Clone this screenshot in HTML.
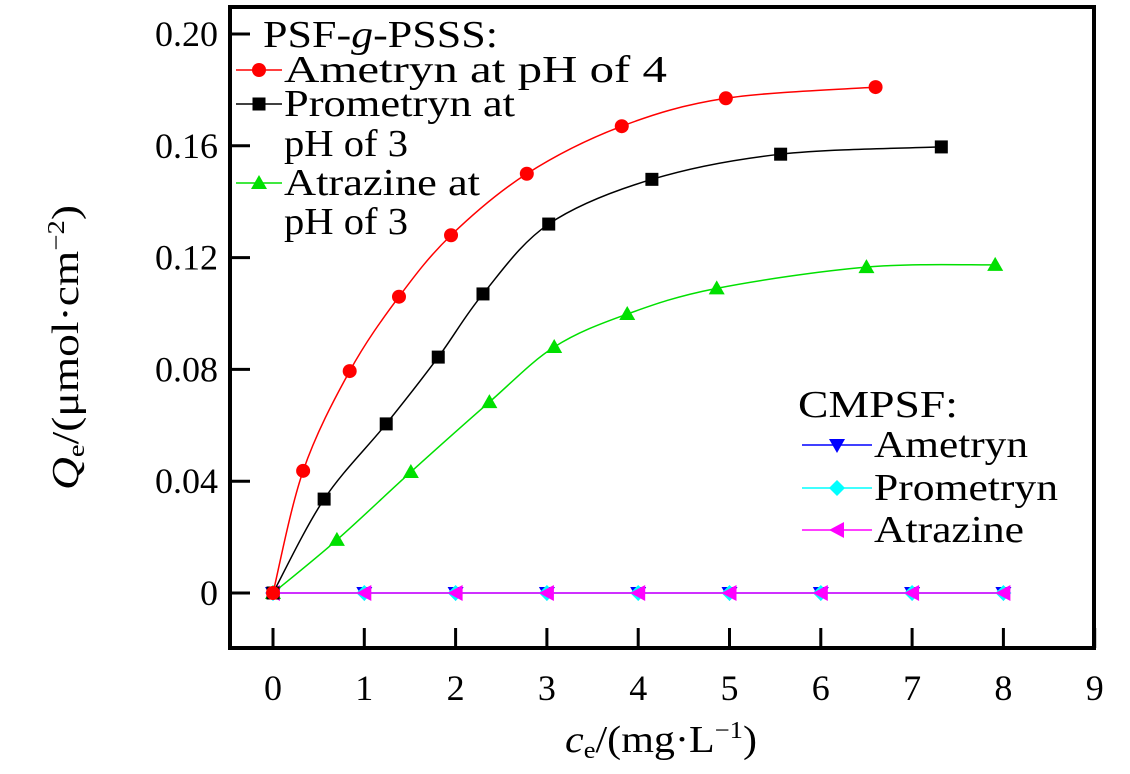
<!DOCTYPE html>
<html><head><meta charset="utf-8"><style>
body{margin:0;background:#fff;}
svg text{font-family:"Liberation Serif",serif;fill:#000;}
</style></head><body>
<svg id="chart" width="1130" height="769" xmlns="http://www.w3.org/2000/svg">
<g id="axes"></g><g id="series"></g><g id="legend"></g>
</svg>
<script>
const xTicks=[0,1,2,3,4,5,6,7,8,9];
const yTicks=[0,0.04,0.08,0.12,0.16,0.20];
const yTickLabels=["0","0.04","0.08","0.12","0.16","0.20"];
const ametrynX=[0,0.33,0.84,1.38,1.95,2.78,3.82,4.96,6.6];
const ametrynY=[0,0.0437,0.0794,0.106,0.128,0.150,0.167,0.177,0.181];
const prometrynX=[0,0.56,1.24,1.81,2.30,3.02,4.15,5.56,7.32];
const prometrynY=[0,0.0336,0.0605,0.0844,0.107,0.132,0.148,0.157,0.1596];
const atrazineX=[0,0.70,1.51,2.37,3.08,3.88,4.86,6.5,7.91];
const atrazineY=[0,0.019,0.0433,0.0683,0.088,0.0998,0.109,0.1166,0.1174];
const cmpsfX=[0,1,2,3,4,5,6,7,8];
const cmpsfAmetrynY=[0,0,0,0,0,0,0,0,0];
const cmpsfPrometrynY=[0,0,0,0,0,0,0,0,0];
const cmpsfAtrazineY=[0,0,0,0,0,0,0,0,0];

const NS="http://www.w3.org/2000/svg";
const X=v=>273+v*91.3, Y=v=>593-v*2795;
function mk(parent,tag,attrs,text){const e=document.createElementNS(NS,tag);for(const k in attrs)e.setAttribute(k,attrs[k]);if(text!==undefined)e.textContent=text;document.getElementById(parent).appendChild(e);return e;}
let f=mk('axes','rect',{x:230,y:7,width:864,height:641,fill:'none',stroke:'#000','stroke-width':4});


xTicks.forEach(t=>{
 let l=mk('axes','line',{x1:X(t),x2:X(t),y1:648,y2:628,stroke:'#000','stroke-width':3});
 
 
 let tx=mk('axes','text',{x:X(t),y:700,'font-size':36,'text-anchor':'middle'},String(t));
 
 
});
yTicks.forEach((t,i)=>{
 let l=mk('axes','line',{x1:230,x2:250,y1:Y(t),y2:Y(t),stroke:'#000','stroke-width':3});
 
 
 let tx=mk('axes','text',{x:218,y:Y(t)+12,'font-size':36,'text-anchor':'end'},yTickLabels[i]);
 
 
});
let xt=mk('axes','text',{x:565,y:752,'font-size':38,textLength:192,lengthAdjust:'spacingAndGlyphs'});
xt.innerHTML='<tspan font-style="italic">c</tspan><tspan font-size="24" dy="6">e</tspan><tspan dy="-6">/(mg·L</tspan><tspan font-size="24" dy="-14">−1</tspan><tspan dy="14">)</tspan>';


let yt=mk('axes','text',{x:0,y:0,'font-size':38,textLength:285,lengthAdjust:'spacingAndGlyphs',transform:'translate(78,490) rotate(-90)'});
yt.innerHTML='<tspan font-style="italic">Q</tspan><tspan font-size="24" dy="6">e</tspan><tspan dy="-6">/(μmol·cm</tspan><tspan font-size="24" dy="-14">−2</tspan><tspan dy="14">)</tspan>';



function smooth(xs,ys){const p=xs.map((x,i)=>[X(x),Y(ys[i])]);let d='M'+p[0][0]+','+p[0][1];
 for(let i=0;i<p.length-1;i++){const p0=p[i-1]||p[i],p1=p[i],p2=p[i+1],p3=p[i+2]||p2;
 d+=` C${p1[0]+(p2[0]-p0[0])/6},${p1[1]+(p2[1]-p0[1])/6} ${p2[0]-(p3[0]-p1[0])/6},${p2[1]-(p3[1]-p1[1])/6} ${p2[0]},${p2[1]}`;}return d;}
function marker(g,shape,cx,cy,color,name){let e;
 if(shape==='circle')e=mk(g,'circle',{cx,cy,r:7,fill:color});
 else if(shape==='square')e=mk(g,'rect',{x:cx-6.5,y:cy-6.5,width:13,height:13,fill:color});
 else if(shape==='up')e=mk(g,'polygon',{points:`${cx},${cy-8} ${cx+8},${cy+6} ${cx-8},${cy+6}`,fill:color});
 else if(shape==='down')e=mk(g,'polygon',{points:`${cx-8},${cy-6} ${cx+8},${cy-6} ${cx},${cy+8}`,fill:color});
 else if(shape==='diamond')e=mk(g,'polygon',{points:`${cx},${cy-8} ${cx+8},${cy} ${cx},${cy+8} ${cx-8},${cy}`,fill:color});
 else e=mk(g,'polygon',{points:`${cx-8},${cy} ${cx+7},${cy-8} ${cx+7},${cy+8}`,fill:color});
 
 }
function series(xs,ys,color,shape,name){
 let p=mk('series','path',{d:smooth(xs,ys),fill:'none',stroke:color,'stroke-width':1.5});
 
 
 xs.forEach((x,i)=>marker('series',shape,X(x),Y(ys[i]),color,name+'-point'));}
series(cmpsfX,cmpsfAmetrynY,'#0000ff','down','cmpsf-ametryn');
series(cmpsfX,cmpsfPrometrynY,'#00ffff','diamond','cmpsf-prometryn');
series(cmpsfX,cmpsfAtrazineY,'#ff00ff','left','cmpsf-atrazine');
series(atrazineX,atrazineY,'#00e000','up','atrazine');
series(prometrynX,prometrynY,'#000000','square','prometryn');
series(ametrynX,ametrynY,'#ff0000','circle','ametryn');

let t1=mk('legend','text',{x:263,y:47,'font-size':38,textLength:235,lengthAdjust:'spacingAndGlyphs'});
t1.innerHTML='PSF-<tspan font-style="italic">g</tspan>-PSSS:';


function entry(y,x1,x2,color,shape,lines,widths,name,lh){
 let l=mk('legend','line',{x1,x2,y1:y,y2:y,stroke:color,'stroke-width':1.5});
 
 
 marker('legend',shape,(x1+x2)/2,y,color,name+'-legend-marker');
 lines.forEach((s,i)=>{let t=mk('legend','text',{x:x2+2,y:y+12+i*lh,'font-size':38,textLength:widths[i],lengthAdjust:'spacingAndGlyphs'},s);
 
 });}
entry(70,236,282,'#ff0000','circle',['Ametryn at pH of 4'],[383],'ametryn',38);
entry(104,236,282,'#000000','square',['Prometryn at','pH of 3'],[231,124],'prometryn',40);
entry(183,236,282,'#00e000','up',['Atrazine at','pH of 3'],[196,124],'atrazine',39);
let t2=mk('legend','text',{x:798,y:417,'font-size':38,textLength:160,lengthAdjust:'spacingAndGlyphs'},'CMPSF:');


entry(445,802,872,'#0000ff','down',['Ametryn'],[154],'cmpsf-ametryn',0);
entry(488,802,872,'#00ffff','diamond',['Prometryn'],[184],'cmpsf-prometryn',0);
entry(530,802,872,'#ff00ff','left',['Atrazine'],[150],'cmpsf-atrazine',0);
</script>
</body></html>
